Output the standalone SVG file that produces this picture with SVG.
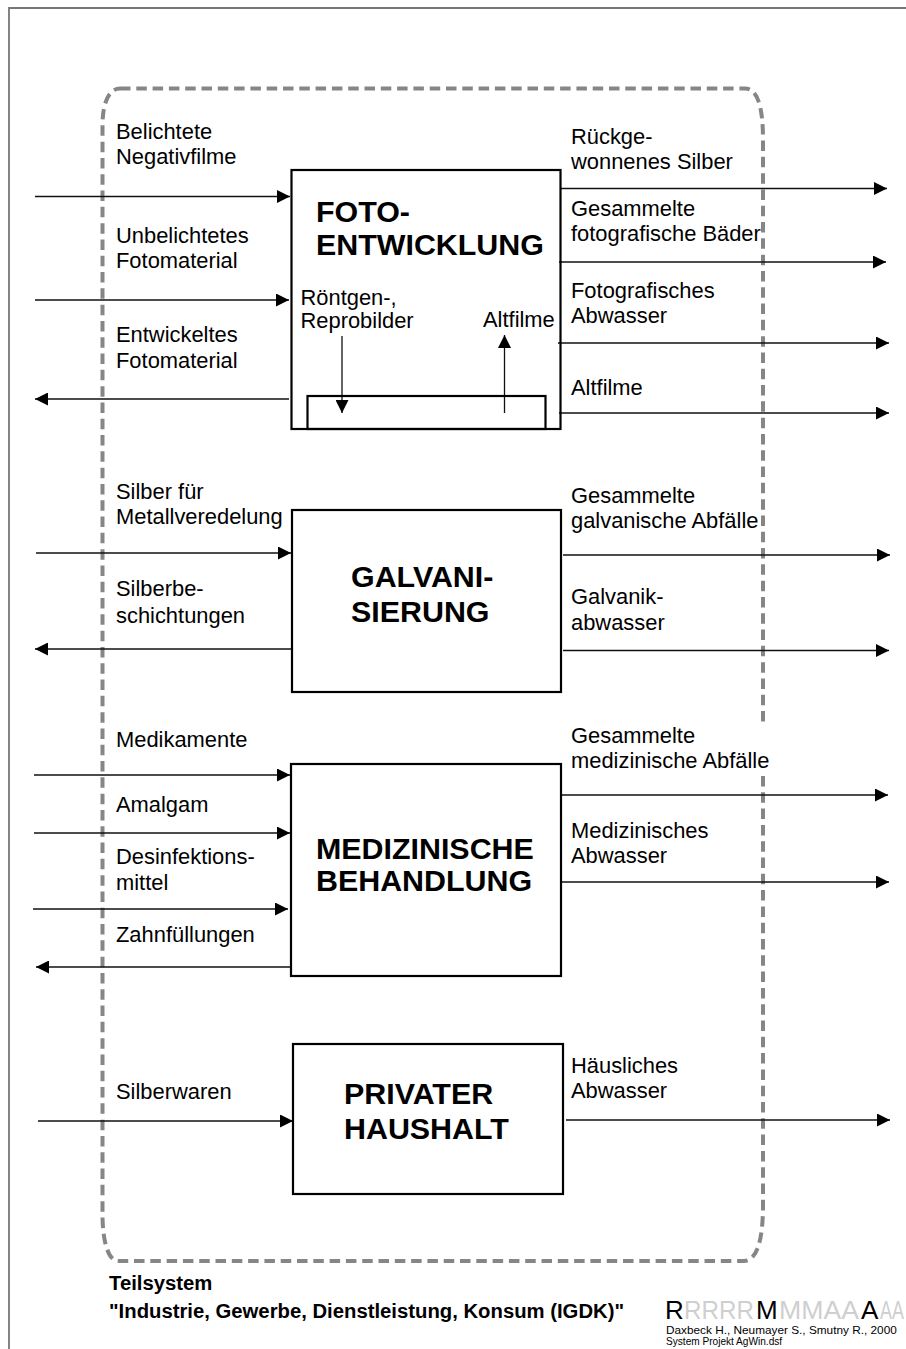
<svg xmlns="http://www.w3.org/2000/svg" width="906" height="1349" viewBox="0 0 906 1349">
<defs>
<marker id="ah" markerUnits="userSpaceOnUse" markerWidth="13" markerHeight="13" refX="13" refY="6.5" orient="auto"><path d="M0 0L13 6.5L0 13Z" fill="#000"/></marker>
</defs>
<style>
text{font-family:"Liberation Sans",Arial,sans-serif;font-size:21.9px;fill:#000}
.h{font-size:30.4px;font-weight:bold}
.b{font-size:20.3px;font-weight:bold}
.box{fill:#fff;stroke:#000;stroke-width:2.2}
.c{fill:none;stroke:#111;stroke-width:1.3;marker-end:url(#ah)}
.d{fill:none;stroke:#868686;stroke-width:4;stroke-dasharray:10.5 5.8}
.g{fill:#cfcfcf}
.l{font-size:26px}
</style>
<rect width="906" height="1349" fill="#fff"/>
<path d="M9 1349V8H906" fill="none" stroke="#777" stroke-width="1.8"/>
<path class="d" d="M120 88.500H745C757 88.500 763 105 763 140V723M763 776V1205C763 1240 757 1261 744 1261H118C108 1261 102.500 1240 102.500 1215V125C102.500 105 108 88.500 120 88.500"/>
<g id="connectors">
<path class="c" d="M35 196.500H290"/><path class="c" d="M35 300H289"/><path class="c" d="M289 399H35"/>
<path class="c" d="M36 553H291"/><path class="c" d="M291 649H35"/>
<path class="c" d="M34 775H290"/><path class="c" d="M34 833H290"/><path class="c" d="M33 909H288"/><path class="c" d="M290 967H36"/>
<path class="c" d="M38 1121H293"/>
<path class="c" d="M561 188.500H887"/><path class="c" d="M559 262H886"/><path class="c" d="M558 343H889"/><path class="c" d="M559 413H889"/>
<path class="c" d="M563 555H890"/><path class="c" d="M563 650.500H889"/>
<path class="c" d="M561 795H888"/><path class="c" d="M561 882H889"/>
<path class="c" d="M566 1120H890"/>
<path class="c" d="M342 336V413"/><path class="c" d="M504.500 413V335"/>
</g>
<g id="foto"><rect class="box" x="291.500" y="170" width="269" height="259" style="fill:none"/><rect class="box" x="307.500" y="396" width="238" height="33" style="fill:none"/>
<text class="h" x="316" y="222">FOTO-</text><text class="h" x="316" y="255">ENTWICKLUNG</text>
<text x="300.500" y="305">Röntgen-,</text><text x="300.500" y="328">Reprobilder</text><text x="483" y="327">Altfilme</text></g>
<g id="galvani"><rect class="box" x="292" y="510" width="269" height="182"/><text class="h" x="351" y="587">GALVANI-</text><text class="h" x="351" y="622">SIERUNG</text></g>
<g id="medizin"><rect class="box" x="291" y="764" width="270" height="212"/><text class="h" x="316" y="859">MEDIZINISCHE</text><text class="h" x="316" y="891">BEHANDLUNG</text></g>
<g id="haushalt"><rect class="box" x="293" y="1044" width="270" height="150"/><text class="h" x="344" y="1104">PRIVATER</text><text class="h" x="344" y="1139">HAUSHALT</text></g>
<g id="labels">
<text x="116" y="139">Belichtete</text><text x="116" y="164">Negativfilme</text>
<text x="116" y="243">Unbelichtetes</text><text x="116" y="268">Fotomaterial</text>
<text x="116" y="342">Entwickeltes</text><text x="116" y="368">Fotomaterial</text>
<text x="116" y="499">Silber für</text><text x="116" y="524">Metallveredelung</text>
<text x="116" y="596">Silberbe-</text><text x="116" y="623">schichtungen</text>
<text x="116" y="747">Medikamente</text><text x="116" y="812">Amalgam</text>
<text x="116" y="864">Desinfektions-</text><text x="116" y="890">mittel</text><text x="116" y="942">Zahnfüllungen</text><text x="116" y="1099">Silberwaren</text>
<text x="571" y="144">Rückge-</text><text x="571" y="169">wonnenes Silber</text>
<text x="571" y="216">Gesammelte</text><text x="571" y="241">fotografische Bäder</text>
<text x="571" y="298">Fotografisches</text><text x="571" y="323">Abwasser</text><text x="571" y="395">Altfilme</text>
<text x="571" y="503">Gesammelte</text><text x="571" y="528">galvanische Abfälle</text>
<text x="571" y="604">Galvanik-</text><text x="571" y="630">abwasser</text>
<text x="571" y="743">Gesammelte</text><text x="571" y="768">medizinische Abfälle</text>
<text x="571" y="838">Medizinisches</text><text x="571" y="863">Abwasser</text>
<text x="571" y="1073">Häusliches</text><text x="571" y="1098">Abwasser</text>
</g>
<g id="footer">
<text class="b" x="109" y="1290">Teilsystem</text>
<text class="b" x="109" y="1318">"Industrie, Gewerbe, Dienstleistung, Konsum (IGDK)"</text>
<text class="l" y="1319"><tspan x="665">R</tspan><tspan class="g" x="684" textLength="70" lengthAdjust="spacingAndGlyphs">RRRR</tspan><tspan x="756">M</tspan><tspan class="g" x="779" textLength="80" lengthAdjust="spacingAndGlyphs">MMAA</tspan><tspan x="861">A</tspan><tspan class="g" x="880" textLength="24" lengthAdjust="spacingAndGlyphs">AA</tspan></text>
<text x="666" y="1334" style="font-size:11.8px">Daxbeck H., Neumayer S., Smutny R., 2000</text>
<text x="666" y="1345" style="font-size:10.1px">System Projekt AgWin.dsf</text>
</g>
</svg>
